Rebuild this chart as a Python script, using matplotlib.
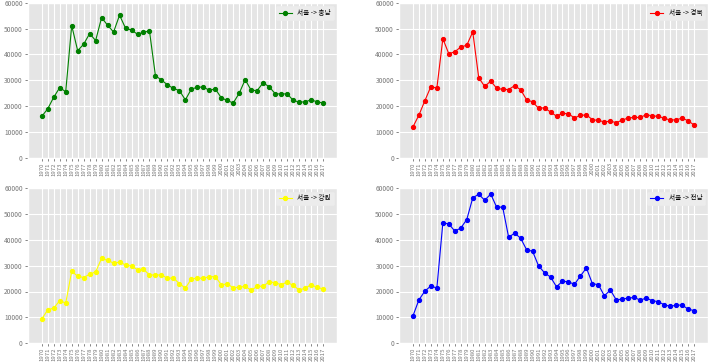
import matplotlib.pyplot as plt

plt.style.use('ggplot')
plt.rcParams['font.family'] = ['Noto Sans CJK KR', 'DejaVu Sans']
plt.rcParams['axes.unicode_minus'] = False

years = [str(y) for y in range(1970, 2018)]

# 서울 -> 충남
chungnam = [15954, 18943, 23406, 27139, 25509, 51205, 41447, 43993, 48091, 45388,
            54302, 51324, 48707, 55230, 50179, 49450, 47830, 48619, 49085, 31697,
            30103, 28217, 26790, 25990, 22355, 26570, 27246, 27374, 26073, 26627,
            23180, 22127, 21148, 24940, 30207, 26085, 25989, 28999, 27469, 24817,
            24588, 24755, 22254, 21471, 21606, 22333, 21670, 21124]
# 서울 -> 경북
gyeongbuk = [11868, 16459, 22073, 27531, 26902, 46109, 40235, 41058, 42874, 43575,
             48760, 30939, 27577, 29650, 26906, 26419, 26393, 27872, 26311, 22416,
             21603, 19123, 19278, 17647, 16058, 17174, 16922, 15403, 16329, 16559,
             14677, 14364, 13859, 14076, 13551, 14511, 15371, 15541, 15530, 16634,
             16150, 15984, 15259, 14530, 14656, 15246, 14283, 12585]
# 서울 -> 강원
gangwon = [9352, 12885, 13561, 16481, 15479, 27837, 25927, 25415, 26700, 27599,
           32877, 32048, 31057, 31374, 30325, 29794, 28473, 28624, 26446, 26387,
           26435, 25158, 25236, 23047, 21349, 24841, 25215, 25112, 25772, 25757,
           22659, 22907, 21497, 21649, 21994, 20494, 21964, 22082, 23729, 23397,
           22645, 23627, 22373, 20665, 21173, 22659, 21590, 21016]
# 서울 -> 전남
jeonnam = [10513, 16755, 20157, 22160, 21314, 46610, 46251, 43430, 44624, 47934,
           56337, 57762, 55400, 57835, 52691, 52775, 41037, 42652, 40696, 36211,
           35600, 29949, 27257, 25615, 21841, 24002, 23754, 22768, 26036, 29144,
           23031, 22642, 18334, 20563, 16705, 17093, 17407, 17727, 16620, 17475,
           16441, 16064, 14858, 14226, 14687, 14744, 13152, 12580]

series = [(chungnam, 'green', '서울 -> 충남'),
          (gyeongbuk, 'red', '서울 -> 경북'),
          (gangwon, 'yellow', '서울 -> 강원'),
          (jeonnam, 'blue', '서울 -> 전남')]

fig = plt.figure(figsize=(7.11, 3.63), dpi=100)
fig.subplots_adjust(left=0.039, right=0.996, top=0.992, bottom=0.055,
                    wspace=0.2, hspace=0.2)

for i, (vals, col, lab) in enumerate(series):
    ax = fig.add_subplot(2, 2, i + 1)
    ax.plot(years, vals, marker='o', markersize=2.8, markerfacecolor=col,
            color=col, linewidth=0.8, label=lab)
    leg = ax.legend(loc='best', fontsize=4.8, framealpha=1.0)
    leg.get_frame().set_facecolor('#ECECEC')
    leg.get_frame().set_edgecolor('#ECECEC')
    ax.set_ylim(0, 60000)
    ax.set_xticks(range(len(years)))
    ax.set_xticklabels(years, rotation=90)
    ax.tick_params(axis='x', labelsize=4.3, length=2, width=0.5, pad=1.5,
                   labelcolor='#777777')
    ax.tick_params(axis='y', labelsize=4.8, length=2, width=0.5, pad=1.5,
                   labelcolor='#777777')
    ax.grid(True, linewidth=0.8)

fig.savefig('out.png', dpi=100)
